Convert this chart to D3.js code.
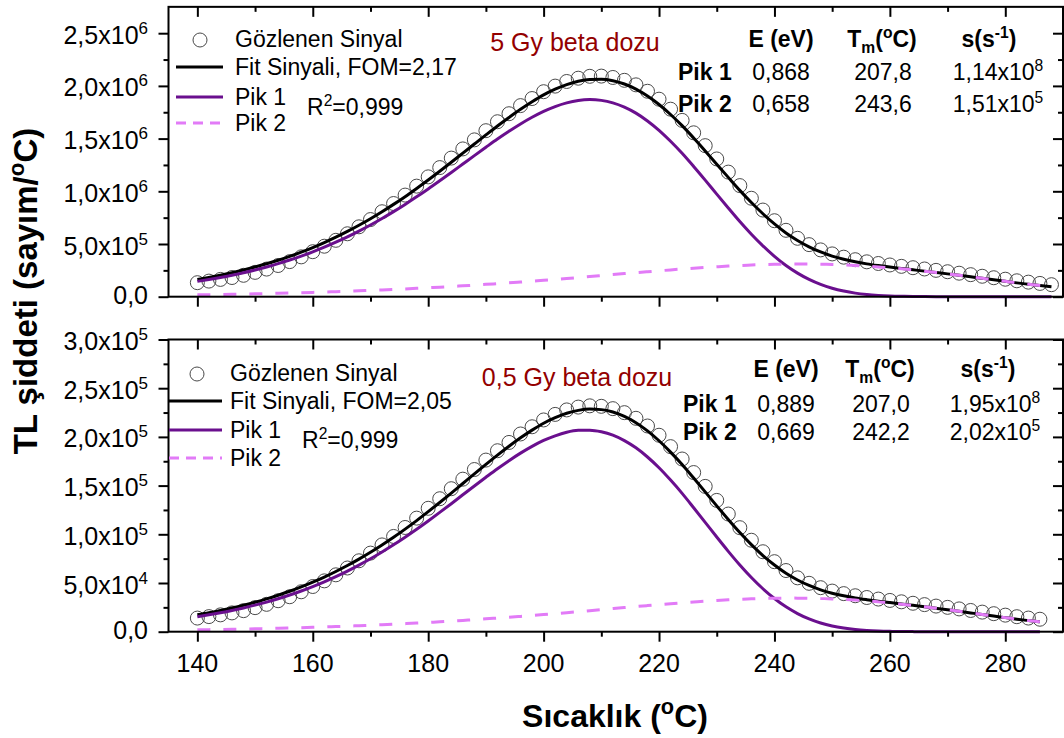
<!DOCTYPE html>
<html><head><meta charset="utf-8">
<script src="https://cdn.jsdelivr.net/npm/d3@7"></script>
<style>body{margin:0;background:#fff}svg{display:block}text{font-family:"Liberation Sans",Arial,sans-serif}</style>
</head><body><svg id="c" width="1064" height="738"></svg>
<script>
// ---------- DATA ----------
const tempsTop = [140,142,144,146,148,150,152,154,156,158,160,162,164,166,168,170,172,174,176,178,180,182,184,186,188,190,192,194,196,198,200,202,204,206,208,210,212,214,216,218,220,222,224,226,228,230,232,234,236,238,240,242,244,246,248,250,252,254,256,258,260,262,264,266,268,270,272,274,276,278,280,282,284,286,288];
// top panel (5 Gy), values in units of 10^6 sayım/°C
const topObserved = [0.133,0.148,0.164,0.182,0.203,0.231,0.262,0.296,0.333,0.378,
0.427,0.479,0.535,0.597,0.663,0.732,0.806,0.884,0.964,1.049,
1.137,1.225,1.315,1.402,1.488,1.575,1.660,1.736,1.813,1.880,
1.945,1.998,2.042,2.073,2.091,2.093,2.080,2.053,2.010,1.949,
1.874,1.779,1.673,1.555,1.433,1.307,1.182,1.054,0.934,0.822,
0.721,0.630,0.554,0.494,0.444,0.406,0.375,0.351,0.331,0.315,
0.301,0.288,0.275,0.263,0.250,0.237,0.223,0.209,0.194,0.180,
0.166,0.151,0.138,0.126,0.114];
const topFit = [0.1634,0.1825,0.2037,0.2273,0.2529,0.2812,0.3121,0.3460,0.3829,0.4230,
0.4666,0.5138,0.5646,0.6191,0.6776,0.7399,0.8062,0.8759,0.9493,1.0271,
1.1072,1.1902,1.2751,1.3615,1.4484,1.5348,1.6197,1.7005,1.7779,1.8497,
1.9147,1.9683,2.0118,2.0434,2.0606,2.0631,2.0495,2.0178,1.9699,1.9042,
1.8236,1.7288,1.6227,1.5054,1.3828,1.2571,1.1321,1.0089,0.8935,0.7871,
0.6906,0.6050,0.5337,0.4735,0.4243,0.3856,0.3551,0.3307,0.3113,0.2953,
0.2809,0.2680,0.2553,0.2426,0.2296,0.2165,0.2027,0.1885,0.1742,0.1599,
0.1458,0.1311,0.1182,0.1055,0.0936];
const topPik1 = [0.1455,0.1631,0.1825,0.2042,0.2278,0.2538,0.2824,0.3138,0.3480,0.3852,
0.4256,0.4696,0.5169,0.5677,0.6221,0.6801,0.7420,0.8071,0.8755,0.9479,
1.0223,1.0996,1.1785,1.2585,1.3385,1.4176,1.4956,1.5691,1.6387,1.7023,
1.7585,1.8042,1.8393,1.8620,1.8700,1.8627,1.8395,1.7986,1.7417,1.6673,
1.5781,1.4745,1.3602,1.2353,1.1057,0.9730,0.8417,0.7130,0.5928,0.4825,
0.3832,0.2958,0.2237,0.1640,0.1163,0.0800,0.0533,0.0340,0.0209,0.0125,
0.0070,0.0038,0.0019,0.0009,0.0004,0.0002,0.0001,0,0,0,
0,0,0,0,0];
const topPik2 = [0.0179,0.0194,0.0212,0.0231,0.0251,0.0274,0.0297,0.0322,0.0349,0.0378,
0.0410,0.0442,0.0477,0.0514,0.0555,0.0598,0.0642,0.0688,0.0738,0.0792,
0.0849,0.0906,0.0966,0.1030,0.1099,0.1172,0.1241,0.1314,0.1392,0.1474,
0.1562,0.1641,0.1725,0.1814,0.1906,0.2004,0.2100,0.2192,0.2282,0.2369,
0.2455,0.2543,0.2625,0.2701,0.2771,0.2841,0.2904,0.2959,0.3007,0.3046,
0.3074,0.3092,0.3100,0.3095,0.3080,0.3056,0.3018,0.2967,0.2904,0.2828,
0.2739,0.2642,0.2534,0.2417,0.2292,0.2163,0.2026,0.1885,0.1742,0.1599,
0.1458,0.1311,0.1182,0.1055,0.0936];

const tempsBot = [140,142,144,146,148,150,152,154,156,158,160,162,164,166,168,170,172,174,176,178,180,182,184,186,188,190,192,194,196,198,200,202,204,206,208,210,212,214,216,218,220,222,224,226,228,230,232,234,236,238,240,242,244,246,248,250,252,254,256,258,260,262,264,266,268,270,272,274,276,278,280,282,284,286];
// bottom panel (0,5 Gy), values in units of 10^5 sayım/°C
const botObserved = [0.140,0.155,0.173,0.193,0.216,0.247,0.281,0.318,0.359,0.410,
0.464,0.522,0.584,0.654,0.728,0.807,0.891,0.978,1.070,1.166,
1.267,1.365,1.468,1.566,1.665,1.762,1.858,1.943,2.030,2.104,
2.174,2.231,2.277,2.306,2.319,2.314,2.290,2.249,2.191,2.112,
2.017,1.900,1.773,1.634,1.492,1.348,1.208,1.068,0.939,0.821,
0.719,0.628,0.553,0.497,0.452,0.417,0.391,0.369,0.351,0.335,
0.321,0.307,0.292,0.278,0.263,0.250,0.234,0.218,0.201,0.185,
0.170,0.154,0.140,0.128];
const botFit = [0.1735,0.1944,0.2176,0.2433,0.2717,0.3027,0.3368,0.3744,0.4150,0.4599,
0.5089,0.5611,0.6182,0.6794,0.7454,0.8156,0.8907,0.9694,1.0532,1.1408,
1.2325,1.3264,1.4227,1.5213,1.6198,1.7172,1.8127,1.9044,1.9907,2.0695,
2.1402,2.1970,2.2425,2.2722,2.2852,2.2800,2.2556,2.2100,2.1458,2.0615,
1.9605,1.8440,1.7167,1.5776,1.4357,1.2922,1.1519,1.0176,0.8937,0.7821,
0.6847,0.6000,0.5310,0.4748,0.4299,0.3953,0.3685,0.3467,0.3291,0.3134,
0.2989,0.2847,0.2704,0.2559,0.2408,0.2254,0.2092,0.1928,0.1764,0.1603,
0.1445,0.1286,0.1144,0.1008];
const botPik1 = [0.1540,0.1731,0.1944,0.2180,0.2441,0.2726,0.3041,0.3389,0.3765,0.4181,
0.4635,0.5121,0.5653,0.6222,0.6837,0.7489,0.8191,0.8926,0.9706,1.0522,
1.1373,1.2248,1.3142,1.4055,1.4962,1.5852,1.6728,1.7562,1.8336,1.9030,
1.9638,2.0114,2.0474,2.0671,2.0694,2.0532,2.0180,1.9619,1.8878,1.7937,
1.6829,1.5564,1.4202,1.2728,1.1230,0.9719,0.8251,0.6850,0.5564,0.4411,
0.3413,0.2552,0.1863,0.1314,0.0892,0.0586,0.0373,0.0224,0.0130,0.0072,
0.0038,0.0019,0.0008,0.0004,0.0002,0.0001,0,0,0,0,
0,0,0,0];
const botPik2 = [0.0195,0.0213,0.0232,0.0253,0.0276,0.0301,0.0327,0.0355,0.0385,0.0418,
0.0454,0.0490,0.0529,0.0572,0.0617,0.0667,0.0716,0.0768,0.0826,0.0886,
0.0952,0.1016,0.1085,0.1158,0.1236,0.1320,0.1399,0.1482,0.1571,0.1665,
0.1764,0.1856,0.1951,0.2051,0.2158,0.2268,0.2376,0.2481,0.2580,0.2678,
0.2776,0.2876,0.2965,0.3048,0.3127,0.3203,0.3268,0.3326,0.3373,0.3410,
0.3434,0.3448,0.3447,0.3434,0.3407,0.3367,0.3312,0.3243,0.3161,0.3062,
0.2951,0.2828,0.2696,0.2555,0.2406,0.2253,0.2092,0.1928,0.1764,0.1603,
0.1445,0.1286,0.1144,0.1008];

// ticks
const xTicks = [140,160,180,200,220,240,260,280];
const xMinorTicks = [150,170,190,210,230,250,270];
const topYTicks = [0,0.5,1,1.5,2,2.5];
const topYMinor = [0.25,0.75,1.25,1.75,2.25];
const topYTickText = ["0,0","5,0x10","1,0x10","1,5x10","2,0x10","2,5x10"];
const topYTickExp = ["","5","6","6","6","6"];
const botYTicks = [0,0.5,1,1.5,2,2.5,3];
const botYMinor = [0.25,0.75,1.25,1.75,2.25,2.75];
const botYTickText = ["0,0","5,0x10","1,0x10","1,5x10","2,0x10","2,5x10","3,0x10"];
const botYTickExp = ["","4","5","5","5","5","5"];

// legend / annotation texts
const topFom = "Fit Sinyali, FOM=2,17";
const botFom = "Fit Sinyali, FOM=2,05";
const topTitle = "5 Gy beta dozu";
const botTitle = "0,5 Gy beta dozu";
const topTableE = ["0,868","0,658"];
const topTableTm = ["207,8","243,6"];
const topTableS = [["1,14x10","8"],["1,51x10","5"]];
const botTableE = ["0,889","0,669"];
const botTableTm = ["207,0","242,2"];
const botTableS = [["1,95x10","8"],["2,02x10","5"]];

// ---------- DRAW ----------
const svg = d3.select("#c");
const COL_FIT = "#000000", COL_P1 = "#6a0f8e", COL_P2 = "#e27bf7", COL_TITLE = "#930000";
const x = d3.scaleLinear().domain([135, 290]).range([168.5, 1063]);

function rich(g, xx, yy, parts, o) {
  const t = g.append("text").attr("x", xx).attr("y", yy)
    .attr("font-size", o.size).attr("text-anchor", o.anchor || "start")
    .attr("font-weight", o.bold ? "bold" : "normal").attr("fill", o.fill || "#000");
  if (o.rotate) t.attr("transform", `rotate(${o.rotate},${xx},${yy})`);
  let shift = 0;
  parts.forEach(p => {
    const s = t.append("tspan").text(p.t);
    const target = p.sup ? -o.size * 0.40 : (p.sub ? o.size * 0.28 : 0);
    if (target - shift !== 0) s.attr("dy", target - shift);
    shift = target;
    if (p.sup || p.sub) s.attr("font-size", o.size * 0.68);
  });
  return t;
}

const panels = [
  {temps: tempsTop, obs: topObserved, fit: topFit, p1: topPik1, p2: topPik2,
   ymax: 2.75, yr: [296.7, 6.85], ticks: topYTicks, minor: topYMinor, tt: topYTickText, te: topYTickExp,
   showX: false},
  {temps: tempsBot, obs: botObserved, fit: botFit, p1: botPik1, p2: botPik2,
   ymax: 3, yr: [631.7, 339.5], ticks: botYTicks, minor: botYMinor, tt: botYTickText, te: botYTickExp,
   showX: true}
];

panels.forEach(P => {
  const y = d3.scaleLinear().domain([0, P.ymax]).range(P.yr);
  const g = svg.append("g");
  const top = P.yr[1], bot = P.yr[0], left = x.range()[0], right = x.range()[1];

  // data
  g.append("g").selectAll("circle").data(P.temps.map((t, i) => [t, P.obs[i]])).join("circle")
    .attr("cx", d => x(d[0])).attr("cy", d => y(d[1])).attr("r", 7)
    .attr("fill", "none").attr("stroke", "#4a4a4a").attr("stroke-width", 1);
  const line = d3.line().x(d => x(d[0])).y(d => y(d[1])).curve(d3.curveMonotoneX);
  g.append("path").datum(P.temps.map((t, i) => [t, P.fit[i]])).attr("d", line)
    .attr("fill", "none").attr("stroke", COL_FIT).attr("stroke-width", 3);
  g.append("path").datum(P.temps.map((t, i) => [t, P.p1[i]])).attr("d", line)
    .attr("fill", "none").attr("stroke", COL_P1).attr("stroke-width", 3);
  g.append("path").datum(P.temps.map((t, i) => [t, P.p2[i]])).attr("d", line)
    .attr("fill", "none").attr("stroke", COL_P2).attr("stroke-width", 3).attr("stroke-dasharray", "13,13");

  // axes ticks
  const axStyle = s => { s.select(".domain").remove(); s.selectAll("line").attr("stroke", "#000").attr("stroke-width", 2); };
  g.append("g").attr("transform", `translate(${left},0)`).call(d3.axisLeft(y).tickValues(P.ticks).tickSize(10).tickFormat("")).call(axStyle);
  g.append("g").attr("transform", `translate(${left},0)`).call(d3.axisLeft(y).tickValues(P.minor).tickSize(5).tickFormat("")).call(axStyle);
  g.append("g").attr("transform", `translate(${right},0)`).call(d3.axisLeft(y).tickValues(P.ticks).tickSize(10).tickFormat("")).call(axStyle);
  g.append("g").attr("transform", `translate(${right},0)`).call(d3.axisLeft(y).tickValues(P.minor).tickSize(5).tickFormat("")).call(axStyle);
  g.append("g").attr("transform", `translate(0,${bot})`).call(d3.axisBottom(x).tickValues(xTicks).tickSize(10).tickFormat("")).call(axStyle);
  g.append("g").attr("transform", `translate(0,${bot})`).call(d3.axisBottom(x).tickValues(xMinorTicks).tickSize(5).tickFormat("")).call(axStyle);
  g.append("g").attr("transform", `translate(0,${top})`).call(d3.axisBottom(x).tickValues(xTicks).tickSize(10).tickFormat("")).call(axStyle);
  g.append("g").attr("transform", `translate(0,${top})`).call(d3.axisBottom(x).tickValues(xMinorTicks).tickSize(5).tickFormat("")).call(axStyle);
  g.append("rect").attr("x", left).attr("y", top).attr("width", right - left).attr("height", bot - top)
    .attr("fill", "none").attr("stroke", "#000").attr("stroke-width", 2);

  // y tick labels
  P.ticks.forEach((v, i) => {
    const parts = [{t: P.tt[i]}];
    if (P.te[i]) parts.push({t: P.te[i], sup: true});
    rich(svg, 148, y(v) + (P.te[i] ? 10.5 : 7.5), parts, {size: 25, anchor: "end"});
  });
  if (P.showX) {
    xTicks.forEach(v => rich(svg, x(v), bot + 40.5, [{t: String(v)}], {size: 25, anchor: "middle"}));
  }
});

// legends
function legend(cx, lx1, lx2, tx, rows, fom) {
  svg.append("circle").attr("cx", cx).attr("cy", rows[0] - 7).attr("r", 7)
    .attr("fill", "none").attr("stroke", "#4a4a4a").attr("stroke-width", 1);
  rich(svg, tx, rows[0], [{t: "Gözlenen Sinyal"}], {size: 23});
  svg.append("line").attr("x1", lx1).attr("x2", lx2).attr("y1", rows[1] - 8).attr("y2", rows[1] - 8).attr("stroke", COL_FIT).attr("stroke-width", 3);
  rich(svg, tx, rows[1], [{t: fom}], {size: 23});
  svg.append("line").attr("x1", lx1).attr("x2", lx2).attr("y1", rows[2] - 8).attr("y2", rows[2] - 8).attr("stroke", COL_P1).attr("stroke-width", 3);
  rich(svg, tx, rows[2], [{t: "Pik 1"}], {size: 23});
  svg.append("line").attr("x1", lx1).attr("x2", lx2).attr("y1", rows[3] - 8).attr("y2", rows[3] - 8).attr("stroke", COL_P2).attr("stroke-width", 3).attr("stroke-dasharray", "10,7");
  rich(svg, tx, rows[3], [{t: "Pik 2"}], {size: 23});
}
legend(200, 176, 223, 235, [47, 75, 105, 131], topFom);
legend(197, 169, 222, 230, [381, 409, 438, 466], botFom);
rich(svg, 307, 115, [{t: "R"}, {t: "2", sup: true}, {t: "=0,999"}], {size: 23});
rich(svg, 302, 448, [{t: "R"}, {t: "2", sup: true}, {t: "=0,999"}], {size: 23});
rich(svg, 575, 51, [{t: topTitle}], {size: 25, anchor: "middle", fill: COL_TITLE});
rich(svg, 577, 386, [{t: botTitle}], {size: 25, anchor: "middle", fill: COL_TITLE});

// tables
function table(cols, yHead, yRows, pikX, E, Tm, S) {
  rich(svg, cols[0], yHead, [{t: "E (eV)"}], {size: 23, bold: true, anchor: "middle"});
  rich(svg, cols[1], yHead, [{t: "T"}, {t: "m", sub: true}, {t: "("}, {t: "o", sup: true}, {t: "C)"}], {size: 23, bold: true, anchor: "middle"});
  rich(svg, cols[2], yHead, [{t: "s(s"}, {t: "-1", sup: true}, {t: ")"}], {size: 23, bold: true, anchor: "middle"});
  [0, 1].forEach(i => {
    rich(svg, pikX, yRows[i], [{t: "Pik " + (i + 1)}], {size: 23, bold: true});
    rich(svg, cols[0], yRows[i], [{t: E[i]}], {size: 23, anchor: "middle"});
    rich(svg, cols[1] + 1, yRows[i], [{t: Tm[i]}], {size: 23, anchor: "middle"});
    rich(svg, cols[3], yRows[i], [{t: S[i][0]}, {t: S[i][1], sup: true}], {size: 23, anchor: "middle"});
  });
}
table([781, 882, 989, 998], 47, [80, 112], 678, topTableE, topTableTm, topTableS);
table([786, 880, 988, 995], 377, [412, 440], 683, botTableE, botTableTm, botTableS);

// axis titles
rich(svg, 37, 291, [{t: "TL şiddeti (sayım/"}, {t: "o", sup: true}, {t: "C)"}], {size: 33, bold: true, anchor: "middle", rotate: -90});
rich(svg, 615, 727, [{t: "Sıcaklık ("}, {t: "o", sup: true}, {t: "C)"}], {size: 32, bold: true, anchor: "middle"});
</script></body></html>
